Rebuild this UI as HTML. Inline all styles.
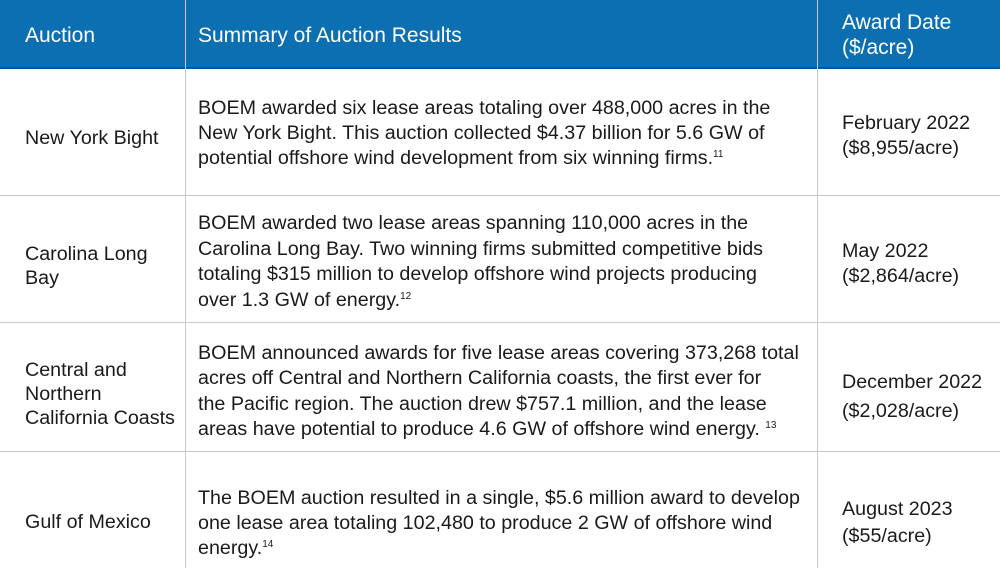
<!DOCTYPE html>
<html><head><meta charset="utf-8"><style>
body{margin:0;width:1000px;height:568px;background:#fff;position:relative;overflow:hidden;font-family:"Liberation Sans",sans-serif;color:#1a1a1a}
.hd{position:absolute;left:0;top:0;width:1000px;height:67px;background:#0b6fb2;border-bottom:2px solid #0a5a92}
.t{position:absolute;white-space:nowrap;font-size:19.7px;line-height:25px}
.h{color:#fff;font-size:21px}
.v{position:absolute;top:0;width:1px;height:568px;background:#c9c9c9}
.r{position:absolute;left:0;width:1000px;height:1px;background:#c9c9c9}
sup{font-size:10px;vertical-align:7px;line-height:0}
</style></head><body>
<div class="hd"></div>
<div class="v" style="left:185px"></div>
<div class="v" style="left:817px"></div>
<div class="r" style="top:195px"></div>
<div class="r" style="top:322px"></div>
<div class="r" style="top:451px"></div>

<div class="t h" style="left:25px;top:23px">Auction</div>
<div class="t h" style="left:198px;top:23px">Summary of Auction Results</div>
<div class="t h" style="left:842px;top:10px;line-height:25px">Award Date<br>($/acre)</div>

<div class="t" style="left:25px;top:126px">New York Bight</div>
<div class="t" style="left:198px;top:96px">BOEM awarded six lease areas totaling over 488,000 acres in the<br>New York Bight. This auction collected $4.37 billion for 5.6 GW of<br>potential offshore wind development from six winning firms.<sup>11</sup></div>
<div class="t" style="left:842px;top:111px">February 2022<br>($8,955/acre)</div>

<div class="t" style="left:25px;top:242px;line-height:24px">Carolina Long<br>Bay</div>
<div class="t" style="left:198px;top:211px;line-height:25.7px">BOEM awarded two lease areas spanning 110,000 acres in the<br>Carolina Long Bay. Two winning firms submitted competitive bids<br>totaling $315 million to develop offshore wind projects producing<br>over 1.3 GW of energy.<sup>12</sup></div>
<div class="t" style="left:842px;top:239px">May 2022<br>($2,864/acre)</div>

<div class="t" style="left:25px;top:358px;line-height:24px">Central and<br>Northern<br>California Coasts</div>
<div class="t" style="left:198px;top:341px;line-height:25.3px">BOEM announced awards for five lease areas covering 373,268 total<br>acres off Central and Northern California coasts, the first ever for<br>the Pacific region. The auction drew $757.1 million, and the lease<br>areas have potential to produce 4.6 GW of offshore wind energy. <sup>13</sup></div>
<div class="t" style="left:842px;top:368px;line-height:29px">December 2022<br>($2,028/acre)</div>

<div class="t" style="left:25px;top:510px">Gulf of Mexico</div>
<div class="t" style="left:198px;top:486px">The BOEM auction resulted in a single, $5.6 million award to develop<br>one lease area totaling 102,480 to produce 2 GW of offshore wind<br>energy.<sup>14</sup></div>
<div class="t" style="left:842px;top:496px;line-height:27px">August 2023<br>($55/acre)</div>
</body></html>
